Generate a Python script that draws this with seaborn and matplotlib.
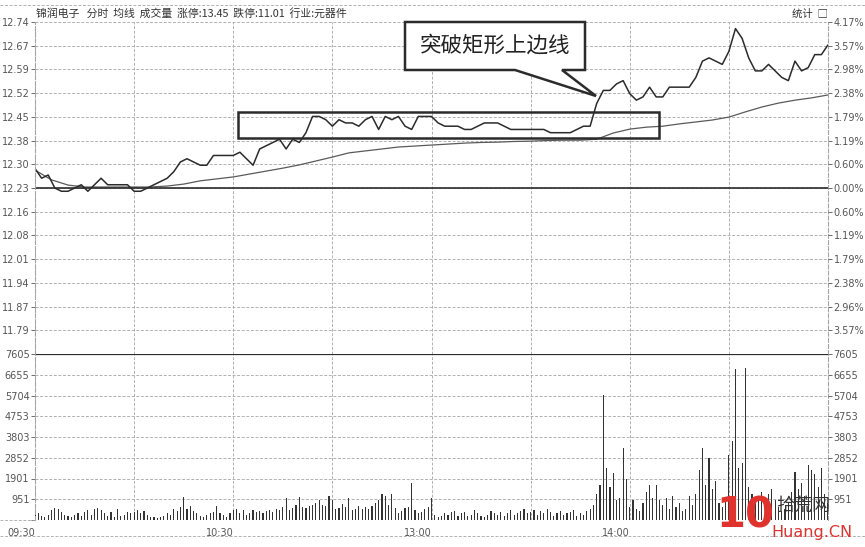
import numpy as np
import pandas as pd
import matplotlib
matplotlib.use('Agg')
import matplotlib.pyplot as plt
from matplotlib.patches import Rectangle, Polygon
from matplotlib.lines import Line2D
import seaborn as sns

# ---- data ----
title = '锦润电子   分时  均线  成交量  涨停:13.45  跌停:11.01  行业:元器件'
prev_close = 12.23
price_labels = ['12.74', '12.67', '12.59', '12.52', '12.45', '12.38', '12.30',
                '12.23', '12.16', '12.08', '12.01', '11.94', '11.87', '11.79']
pct_labels = ['4.17%', '3.57%', '2.98%', '2.38%', '1.79%', '1.19%', '0.60%',
              '0.00%', '0.60%', '1.19%', '1.79%', '2.38%', '2.96%', '3.57%']
vol_labels = ['7605', '6655', '5704', '4753', '3803', '2852', '1901', '951']
time_labels = ['09:30', '', '10:30', '', '13:00', '', '14:00', '', '']

# price every 2 minutes (0..240)
price = [12.29, 12.26, 12.27, 12.23, 12.22, 12.22, 12.23, 12.24, 12.22, 12.24,
         12.26, 12.24, 12.24, 12.24, 12.24, 12.22, 12.22, 12.23, 12.24, 12.25,
         12.26, 12.28, 12.31, 12.32, 12.31, 12.30, 12.30, 12.33, 12.33, 12.33,
         12.33, 12.34, 12.32, 12.30, 12.35, 12.36, 12.37, 12.38, 12.35, 12.38,
         12.37, 12.40, 12.45, 12.45, 12.44, 12.42, 12.44, 12.43, 12.43, 12.42,
         12.44, 12.45, 12.41, 12.45, 12.44, 12.45, 12.42, 12.41, 12.45, 12.45,
         12.45, 12.43, 12.42, 12.42, 12.42, 12.41, 12.41, 12.42, 12.43, 12.43,
         12.43, 12.42, 12.41, 12.41, 12.41, 12.41, 12.41, 12.41, 12.40, 12.40,
         12.40, 12.40, 12.41, 12.42, 12.42, 12.49, 12.53, 12.53, 12.55, 12.56,
         12.52, 12.50, 12.51, 12.54, 12.51, 12.51, 12.54, 12.54, 12.54, 12.54,
         12.57, 12.62, 12.63, 12.62, 12.61, 12.65, 12.72, 12.69, 12.63, 12.59,
         12.59, 12.61, 12.59, 12.57, 12.56, 12.62, 12.59, 12.60, 12.64, 12.64,
         12.67]

# average price every 5 minutes (0..240)
avg = [12.285, 12.255, 12.239, 12.233, 12.233, 12.233, 12.233, 12.233, 12.236,
       12.242, 12.252, 12.258, 12.264, 12.273, 12.282, 12.291, 12.301, 12.313,
       12.325, 12.338, 12.344, 12.350, 12.356, 12.359, 12.362, 12.365, 12.368,
       12.370, 12.371, 12.373, 12.374, 12.376, 12.377, 12.377, 12.380, 12.399,
       12.411, 12.417, 12.420, 12.427, 12.433, 12.439, 12.448, 12.464, 12.479,
       12.491, 12.500, 12.507, 12.516]

# volume every minute (0..240)
volume = [400, 300, 180, 150, 250, 450, 550, 500, 350, 250,
          200, 150, 250, 300, 200, 350, 450, 250, 500, 550,
          450, 300, 200, 350, 150, 500, 200, 250, 350, 300,
          350, 450, 300, 400, 250, 150, 120, 100, 150, 200,
          300, 250, 500, 400, 600, 1050, 500, 650, 400, 300,
          200, 150, 250, 300, 350, 650, 300, 250, 150, 300,
          450, 500, 300, 450, 250, 300, 450, 350, 400, 300,
          400, 450, 350, 500, 450, 600, 1000, 450, 550, 700,
          1050, 600, 550, 650, 700, 800, 900, 700, 650, 1100,
          900, 500, 550, 750, 600, 1000, 450, 500, 650, 500,
          600, 500, 650, 800, 900, 1200, 1100, 700, 1200, 550,
          300, 400, 550, 600, 1700, 450, 300, 350, 500, 600,
          1000, 250, 150, 200, 300, 250, 350, 400, 200, 300,
          350, 200, 250, 450, 300, 200, 150, 250, 400, 300,
          250, 350, 200, 300, 450, 250, 300, 400, 500, 300,
          350, 450, 250, 400, 300, 500, 350, 200, 300, 400,
          250, 300, 350, 450, 200, 300, 250, 400, 500, 700,
          1200, 1600, 5720, 2400, 1500, 2150, 900, 1000, 3300, 1900,
          600, 900, 500, 400, 800, 1300, 1600, 1000, 1600, 900,
          700, 1000, 500, 1100, 600, 800, 400, 500, 1100, 700,
          1200, 2300, 3300, 1600, 2850, 1400, 1800, 800, 600, 1000,
          3000, 3600, 6900, 2400, 2600, 6950, 1500, 1200, 900, 1100,
          1300, 800, 1200, 1400, 900, 600, 400, 500, 800, 1300,
          2200, 1400, 1700, 1100, 2500, 2300, 2100, 1500, 2400, 1200,
          800]

box_minutes = (61.5, 189)
box_prices = (12.385, 12.463)
note = '突破矩形上边线'

# ---- layout ----
W, H = 865, 547
sns.set_theme(style='white')
plt.rcParams['font.family'] = ['DejaVu Sans', 'Noto Sans CJK SC']
line_col = '#2b2b2b'
grid_col = '#a5a5a5'
lab_col = '#555555'
dash = (0, (3.5, 2))

fig = plt.figure(figsize=(W / 100, H / 100), dpi=100)
fig.patch.set_facecolor('white')


def px(l, t, r, b):
    return [l / W, 1 - b / H, (r - l) / W, (b - t) / H]


ax = fig.add_axes(px(35, 22, 828, 354))
axv = fig.add_axes(px(35, 354, 828, 520), sharex=ax)

step = 0.0729
top = prev_close + 7 * step
price_ticks = [top - k * step for k in range(len(price_labels))]

df_p = pd.DataFrame({'minute': np.arange(0, 241, 2), 'price': price})
df_a = pd.DataFrame({'minute': np.arange(0, 241, 5), 'avg': avg})
df_v = pd.DataFrame({'minute': np.arange(0, 241), 'volume': volume})

sns.lineplot(data=df_a, x='minute', y='avg', ax=ax, color='#5a5a5a', lw=0.9)
sns.lineplot(data=df_p, x='minute', y='price', ax=ax, color=line_col, lw=1.1)
sns.barplot(data=df_v, x='minute', y='volume', ax=axv, native_scale=True,
            color='#333333', width=0.35, linewidth=0, saturation=1)

for a in (ax, axv):
    a.set_xlim(0, 240)
    a.set_xticks(np.arange(0, 241, 30))
    a.grid(True, ls=dash, color=grid_col, lw=0.6)
    a.set_xlabel('')
    a.set_ylabel('')
    for s in ('left', 'right'):
        a.spines[s].set_linestyle(dash)
        a.spines[s].set_color(grid_col)
        a.spines[s].set_linewidth(0.8)
    a.spines['bottom'].set_visible(False)
    a.spines['top'].set_visible(False)
    a.tick_params(axis='y', left=True, length=3, width=0.6, color=lab_col,
                  labelsize=7, labelcolor=lab_col, pad=1)

ax.set_ylim(top - 14 * step, top)
ax.set_yticks(price_ticks)
ax.set_yticklabels(price_labels)
ax.tick_params(axis='x', bottom=False, labelbottom=False)
ax.axhline(prev_close, color=line_col, lw=1.2)

axv.set_ylim(0, 7605)
vol_ticks = [7605 * (8 - k) / 8 for k in range(len(vol_labels))]
axv.set_yticks(vol_ticks + [0])
axv.set_yticklabels(vol_labels + [''])
axv.axhline(7605, color=line_col, lw=1.6)
axv.axhline(0, color=grid_col, lw=0.6, ls=dash)
axv.set_xticklabels(time_labels)
axv.tick_params(axis='x', bottom=False, labelsize=7, labelcolor=lab_col, pad=0)
for t in axv.get_xticklabels():
    t.set_ha('right')

# right-hand labels
axr = ax.twinx()
axr.set_ylim(ax.get_ylim())
axr.set_yticks(price_ticks)
axr.set_yticklabels(pct_labels)
axvr = axv.twinx()
axvr.set_ylim(axv.get_ylim())
axvr.set_yticks(vol_ticks)
axvr.set_yticklabels(vol_labels)
for a in (axr, axvr):
    a.grid(False)
    for s in a.spines.values():
        s.set_visible(False)
    a.tick_params(axis='y', right=True, length=3, width=0.6, color=lab_col,
                  labelsize=7, labelcolor=lab_col, pad=1)

# rectangle around the consolidation
ax.add_patch(Rectangle((box_minutes[0], box_prices[0]),
                       box_minutes[1] - box_minutes[0],
                       box_prices[1] - box_prices[0],
                       fill=False, ec=line_col, lw=1.8, zorder=5))

# callout
call = [(405, 22), (585, 22), (585, 70), (562, 70), (596, 96), (515, 70), (405, 70)]
fig.patches.append(Polygon([(x / W, 1 - y / H) for x, y in call], closed=True,
                           transform=fig.transFigure, fc='white', ec=line_col,
                           lw=1.8, zorder=10))
fig.text(495 / W, 1 - 46 / H, note, ha='center', va='center', fontsize=15.5,
         family=['Noto Sans CJK SC', 'DejaVu Sans'], color='#222222', zorder=11)

# header and frame lines
fig.text(36 / W, 1 - 13 / H, title, ha='left', va='center', fontsize=7.8,
         family=['Noto Sans CJK SC', 'DejaVu Sans'], color='#333333')
fig.text(810 / W, 1 - 14 / H, '统计  □', ha='center', va='center', fontsize=7.5,
         family=['Noto Sans CJK SC', 'DejaVu Sans'], color='#333333')
for y in (5, 536):
    fig.add_artist(Line2D([0, 1], [1 - y / H] * 2, transform=fig.transFigure,
                          ls=dash, color=grid_col, lw=0.6))
fig.add_artist(Line2D([0, 35 / W], [1 - 520 / H] * 2, transform=fig.transFigure,
                      ls=dash, color=grid_col, lw=0.6))

# watermark
fig.text(745 / W, 1 - 516 / H, '10', ha='center', va='center', fontsize=30,
         fontweight='bold', color='#e0332e')
fig.text(803 / W, 1 - 506 / H, '拾荒网', ha='center', va='center', fontsize=13,
         family=['Noto Sans CJK SC', 'DejaVu Sans'], color='#333333')
fig.text(812 / W, 1 - 532 / H, 'Huang.CN', ha='center', va='center', fontsize=11.5,
         color='#e0332e')

fig.savefig('out.png', dpi=100, facecolor='white')
